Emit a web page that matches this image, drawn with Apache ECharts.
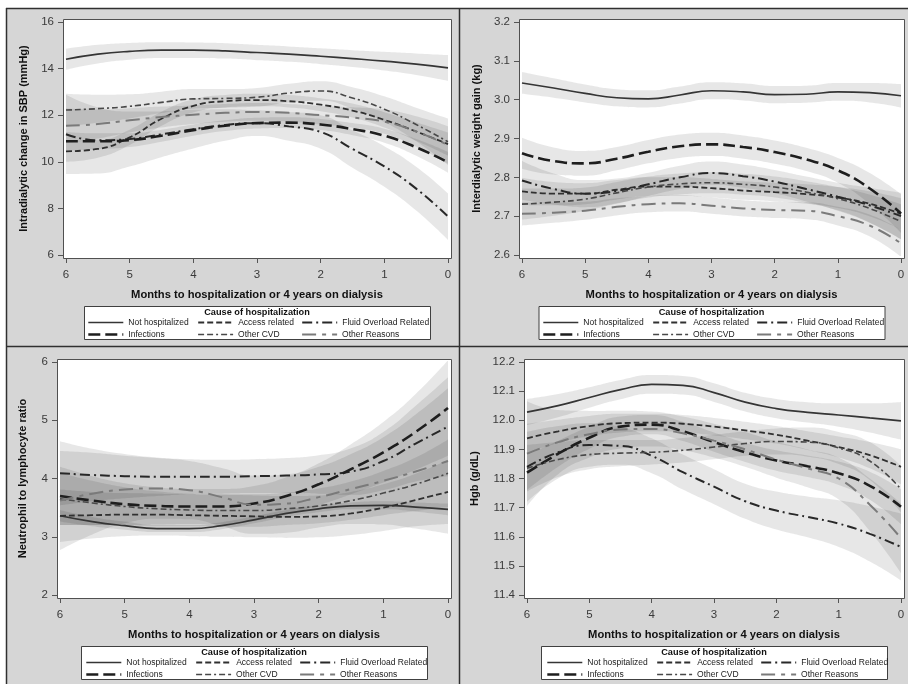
<!DOCTYPE html>
<html>
<head>
<meta charset="utf-8">
<title>Trajectories before hospitalization</title>
<script src="https://cdn.jsdelivr.net/npm/echarts@6/dist/echarts.min.js"></script>
<style>
  html, body { margin: 0; padding: 0; background: #ffffff; }
  #chart { width: 908px; height: 684px; }
</style>
</head>
<body>
<div id="chart"></div>
<script>
// Months before the event (x axis runs from 6 down to 0, half-month steps)
const months = [6, 5.5, 5, 4.5, 4, 3.5, 3, 2.5, 2, 1.5, 1, 0.5, 0];
const causes = ['Not hospitalized', 'Access related', 'Fluid Overload Related',
                'Infections', 'Other CVD', 'Other Reasons'];

// Intradialytic change in SBP (mmHg): fitted means and 95% CI half-widths
const sbpNotHosp   = [14.40, 14.62, 14.74, 14.79, 14.79, 14.76, 14.69, 14.62, 14.53, 14.43, 14.32, 14.19, 14.03];
const sbpAccess    = [10.45, 10.55, 11.05, 11.85, 12.40, 12.60, 12.65, 12.60, 12.45, 12.20, 11.80, 11.30, 10.76];
const sbpFluid     = [11.18, 10.92, 10.98, 11.18, 11.40, 11.58, 11.66, 11.52, 11.28, 10.55, 9.80, 8.85, 7.65];
const sbpInfection = [10.88, 10.88, 10.93, 11.12, 11.36, 11.55, 11.66, 11.68, 11.60, 11.40, 11.12, 10.62, 9.98];
const sbpOtherCVD  = [12.22, 12.28, 12.38, 12.55, 12.70, 12.72, 12.77, 12.95, 13.04, 12.74, 12.26, 11.60, 10.86];
const sbpOtherRsn  = [11.55, 11.62, 11.78, 11.92, 12.02, 12.10, 12.14, 12.10, 12.00, 11.90, 11.72, 11.30, 10.72];
const sbpNotHospCI   = [0.45, 0.40, 0.36, 0.34, 0.33, 0.33, 0.33, 0.33, 0.34, 0.36, 0.40, 0.46, 0.55];
const sbpAccessCI    = [0.45, 0.38, 0.33, 0.30, 0.28, 0.27, 0.27, 0.27, 0.28, 0.30, 0.33, 0.40, 0.50];
const sbpFluidCI     = [1.70, 1.42, 1.18, 0.98, 0.83, 0.68, 0.55, 0.62, 0.72, 0.80, 0.87, 0.94, 1.00];
const sbpInfectionCI = [0.40, 0.34, 0.30, 0.26, 0.24, 0.23, 0.23, 0.23, 0.24, 0.26, 0.30, 0.36, 0.45];
const sbpOtherCVDCI  = [0.70, 0.60, 0.52, 0.46, 0.42, 0.40, 0.40, 0.40, 0.42, 0.46, 0.55, 0.72, 1.00];
const sbpOtherRsnCI  = [0.75, 0.62, 0.52, 0.45, 0.40, 0.38, 0.38, 0.38, 0.40, 0.44, 0.52, 0.65, 0.80];

// Interdialytic weight gain (kg)
const idwgNotHosp   = [3.043, 3.030, 3.016, 3.005, 3.002, 3.012, 3.023, 3.020, 3.013, 3.014, 3.020, 3.018, 3.010];
const idwgAccess    = [2.764, 2.758, 2.758, 2.768, 2.776, 2.776, 2.772, 2.766, 2.762, 2.757, 2.748, 2.732, 2.706];
const idwgFluid     = [2.792, 2.770, 2.758, 2.765, 2.782, 2.800, 2.811, 2.803, 2.789, 2.770, 2.750, 2.728, 2.700];
const idwgInfection = [2.862, 2.842, 2.836, 2.848, 2.866, 2.880, 2.885, 2.878, 2.865, 2.846, 2.818, 2.772, 2.707];
const idwgOtherCVD  = [2.731, 2.736, 2.744, 2.760, 2.775, 2.783, 2.786, 2.782, 2.775, 2.762, 2.745, 2.720, 2.686];
const idwgOtherRsn  = [2.706, 2.709, 2.714, 2.724, 2.731, 2.733, 2.727, 2.720, 2.716, 2.714, 2.700, 2.676, 2.630];
const idwgNotHospCI   = [0.028, 0.025, 0.023, 0.022, 0.022, 0.022, 0.022, 0.022, 0.022, 0.022, 0.023, 0.025, 0.030];
const idwgAccessCI    = [0.035, 0.030, 0.027, 0.025, 0.024, 0.024, 0.024, 0.024, 0.024, 0.025, 0.027, 0.032, 0.040];
const idwgFluidCI     = [0.050, 0.040, 0.035, 0.032, 0.030, 0.030, 0.030, 0.030, 0.030, 0.032, 0.036, 0.045, 0.060];
const idwgInfectionCI = [0.040, 0.035, 0.032, 0.030, 0.030, 0.030, 0.030, 0.030, 0.030, 0.030, 0.032, 0.040, 0.050];
const idwgOtherCVDCI  = [0.040, 0.035, 0.030, 0.028, 0.027, 0.027, 0.027, 0.027, 0.027, 0.028, 0.030, 0.036, 0.045];
const idwgOtherRsnCI  = [0.030, 0.026, 0.023, 0.022, 0.021, 0.021, 0.021, 0.021, 0.021, 0.022, 0.024, 0.028, 0.035];

// Neutrophil to lymphocyte ratio
const nlrNotHosp   = [3.36, 3.26, 3.19, 3.14, 3.14, 3.19, 3.29, 3.40, 3.48, 3.53, 3.54, 3.51, 3.47];
const nlrAccess    = [3.36, 3.37, 3.38, 3.38, 3.37, 3.36, 3.35, 3.34, 3.35, 3.40, 3.50, 3.63, 3.77];
const nlrFluid     = [4.09, 4.06, 4.04, 4.03, 4.03, 4.03, 4.04, 4.05, 4.07, 4.12, 4.30, 4.60, 4.89];
const nlrInfection = [3.70, 3.62, 3.56, 3.53, 3.52, 3.52, 3.57, 3.70, 3.90, 4.16, 4.45, 4.80, 5.21];
const nlrOtherCVD  = [3.65, 3.58, 3.52, 3.48, 3.46, 3.45, 3.45, 3.48, 3.53, 3.62, 3.75, 3.90, 4.09];
const nlrOtherRsn  = [3.62, 3.74, 3.81, 3.83, 3.80, 3.68, 3.55, 3.57, 3.68, 3.82, 3.96, 4.12, 4.30];
const nlrNotHospCI   = [0.10, 0.08, 0.07, 0.06, 0.06, 0.06, 0.06, 0.06, 0.06, 0.06, 0.07, 0.08, 0.10];
const nlrAccessCI    = [0.45, 0.40, 0.37, 0.36, 0.36, 0.36, 0.36, 0.36, 0.36, 0.37, 0.40, 0.45, 0.55];
const nlrFluidCI     = [0.55, 0.45, 0.38, 0.33, 0.30, 0.29, 0.29, 0.30, 0.33, 0.40, 0.50, 0.65, 0.85];
const nlrInfectionCI = [0.50, 0.42, 0.36, 0.32, 0.30, 0.30, 0.30, 0.32, 0.36, 0.43, 0.52, 0.65, 0.82];
const nlrOtherCVDCI  = [0.45, 0.38, 0.33, 0.30, 0.28, 0.28, 0.28, 0.28, 0.30, 0.33, 0.38, 0.46, 0.58];
const nlrOtherRsnCI  = [0.85, 0.70, 0.58, 0.52, 0.50, 0.50, 0.50, 0.50, 0.52, 0.60, 0.75, 0.98, 1.25];

// Hemoglobin (g/dL)
const hgbNotHosp   = [12.028, 12.050, 12.078, 12.105, 12.123, 12.120, 12.095, 12.062, 12.040, 12.027, 12.018, 12.008, 11.998];
const hgbAccess    = [11.938, 11.962, 11.980, 11.990, 11.992, 11.988, 11.978, 11.965, 11.950, 11.930, 11.908, 11.880, 11.840];
const hgbFluid     = [11.840, 11.890, 11.915, 11.912, 11.878, 11.822, 11.772, 11.722, 11.690, 11.668, 11.645, 11.610, 11.565];
const hgbInfection = [11.820, 11.885, 11.940, 11.978, 11.985, 11.962, 11.925, 11.890, 11.862, 11.842, 11.818, 11.775, 11.703];
const hgbOtherCVD  = [11.835, 11.865, 11.882, 11.887, 11.890, 11.897, 11.908, 11.920, 11.927, 11.925, 11.905, 11.860, 11.763];
const hgbOtherRsn  = [11.885, 11.925, 11.952, 11.968, 11.970, 11.955, 11.930, 11.900, 11.865, 11.835, 11.800, 11.710, 11.595];
const hgbNotHospCI   = [0.045, 0.040, 0.035, 0.033, 0.032, 0.032, 0.032, 0.032, 0.033, 0.035, 0.040, 0.050, 0.065];
const hgbAccessCI    = [0.050, 0.040, 0.035, 0.032, 0.030, 0.030, 0.030, 0.030, 0.030, 0.032, 0.036, 0.045, 0.060];
const hgbFluidCI     = [0.120, 0.090, 0.075, 0.065, 0.060, 0.060, 0.060, 0.060, 0.065, 0.070, 0.080, 0.095, 0.115];
const hgbInfectionCI = [0.060, 0.045, 0.038, 0.035, 0.033, 0.033, 0.033, 0.033, 0.035, 0.037, 0.040, 0.048, 0.060];
const hgbOtherCVDCI  = [0.080, 0.060, 0.050, 0.045, 0.042, 0.042, 0.042, 0.042, 0.045, 0.050, 0.055, 0.065, 0.080];
const hgbOtherRsnCI  = [0.180, 0.110, 0.080, 0.065, 0.060, 0.058, 0.058, 0.060, 0.062, 0.065, 0.072, 0.090, 0.120];

const panels = [
  { yName: 'Intradialytic change in SBP (mmHg)', yMin: 6, yMax: 16, yStep: 2, digits: 0,
    means: [sbpNotHosp, sbpAccess, sbpFluid, sbpInfection, sbpOtherCVD, sbpOtherRsn],
    cis:   [sbpNotHospCI, sbpAccessCI, sbpFluidCI, sbpInfectionCI, sbpOtherCVDCI, sbpOtherRsnCI] },
  { yName: 'Interdialytic weight gain (kg)', yMin: 2.6, yMax: 3.2, yStep: 0.1, digits: 1,
    means: [idwgNotHosp, idwgAccess, idwgFluid, idwgInfection, idwgOtherCVD, idwgOtherRsn],
    cis:   [idwgNotHospCI, idwgAccessCI, idwgFluidCI, idwgInfectionCI, idwgOtherCVDCI, idwgOtherRsnCI] },
  { yName: 'Neutrophil to lymphocyte ratio', yMin: 2, yMax: 6, yStep: 1, digits: 0,
    means: [nlrNotHosp, nlrAccess, nlrFluid, nlrInfection, nlrOtherCVD, nlrOtherRsn],
    cis:   [nlrNotHospCI, nlrAccessCI, nlrFluidCI, nlrInfectionCI, nlrOtherCVDCI, nlrOtherRsnCI] },
  { yName: 'Hgb (g/dL)', yMin: 11.4, yMax: 12.2, yStep: 0.1, digits: 1,
    means: [hgbNotHosp, hgbAccess, hgbFluid, hgbInfection, hgbOtherCVD, hgbOtherRsn],
    cis:   [hgbNotHospCI, hgbAccessCI, hgbFluidCI, hgbInfectionCI, hgbOtherCVDCI, hgbOtherRsnCI] }
];

// Page layout (pixels): plotting rectangle, y-title gap, legend position
const layout = [
  { left: 66,  top: 22,  width: 382, height: 233, nameGap: 34, legendLeft: 87 },
  { left: 522, top: 22,  width: 379, height: 233, nameGap: 37, legendLeft: 542 },
  { left: 60,  top: 362, width: 388, height: 233, nameGap: 29, legendLeft: 85 },
  { left: 527, top: 362, width: 374, height: 233, nameGap: 44, legendLeft: 546 }
];
const PAD = 3;            // frame sits a few pixels outside the data range
const FONT = 'Liberation Sans, Arial, sans-serif';

const styleByCause = {
  'Not hospitalized':       { color: '#353535', width: 1.7, type: 'solid' },
  'Access related':         { color: '#303030', width: 1.8, type: [6, 3] },
  'Fluid Overload Related': { color: '#282828', width: 2.0, type: [10, 4, 2, 4] },
  'Infections':             { color: '#1e1e1e', width: 2.6, type: [12, 5] },
  'Other CVD':              { color: '#484848', width: 1.6, type: [6, 3, 6, 3, 2, 3] },
  'Other Reasons':          { color: '#7a7a7a', width: 2.0, type: [14, 6, 4, 6] }
};
const legendColumn = {
  'Not hospitalized': 'c1', 'Infections': 'c1',
  'Access related': 'c2', 'Other CVD': 'c2',
  'Fluid Overload Related': 'c3', 'Other Reasons': 'c3'
};
const legendOrder = ['Not hospitalized', 'Access related', 'Fluid Overload Related',
                     'Infections', 'Other CVD', 'Other Reasons'];

const grids = [], xAxes = [], yAxes = [], series = [], legends = [], graphics = [];

// white margin and panel dividers
graphics.push(
  { type: 'rect', shape: { x: 0, y: 0, width: 908, height: 8 }, style: { fill: '#ffffff' }, z: -20 },
  { type: 'rect', shape: { x: 0, y: 0, width: 6, height: 684 }, style: { fill: '#ffffff' }, z: -20 },
  { type: 'line', shape: { x1: 6, y1: 8.5, x2: 908, y2: 8.5 }, style: { stroke: '#303030', lineWidth: 1.5 }, z: -10 },
  { type: 'line', shape: { x1: 6.5, y1: 8, x2: 6.5, y2: 684 }, style: { stroke: '#303030', lineWidth: 1.5 }, z: -10 },
  { type: 'line', shape: { x1: 459.5, y1: 8, x2: 459.5, y2: 684 }, style: { stroke: '#303030', lineWidth: 1.5 }, z: -10 },
  { type: 'line', shape: { x1: 6, y1: 346.5, x2: 908, y2: 346.5 }, style: { stroke: '#303030', lineWidth: 1.5 }, z: -10 }
);

panels.forEach((p, pi) => {
  const L = layout[pi];
  grids.push({ left: L.left, top: L.top, width: L.width, height: L.height, containLabel: false });

  xAxes.push({
    type: 'category', gridIndex: pi, data: months.map(String), boundaryGap: false, offset: PAD,
    name: 'Months to hospitalization or 4 years on dialysis',
    nameLocation: 'middle', nameGap: 31,
    nameTextStyle: { fontFamily: FONT, fontSize: 11.2, fontWeight: 'bold', color: '#111' },
    axisLine: { show: false, onZero: false },
    axisTick: { show: true, length: 5, interval: 1, lineStyle: { color: '#555', width: 1 } },
    axisLabel: { fontFamily: FONT, fontSize: 11.5, color: '#3a3a3a', margin: 11, interval: 1 },
    splitLine: { show: false }
  });

  yAxes.push({
    type: 'value', gridIndex: pi, min: p.yMin, max: p.yMax, interval: p.yStep, offset: PAD,
    name: p.yName, nameLocation: 'middle', nameGap: L.nameGap,
    nameTextStyle: { fontFamily: FONT, fontSize: 11, fontWeight: 'bold', color: '#111' },
    axisLine: { show: false, onZero: false },
    axisTick: { show: true, length: 5, lineStyle: { color: '#555', width: 1 } },
    axisLabel: { fontFamily: FONT, fontSize: 11.5, color: '#3a3a3a', margin: 9,
                 formatter: v => v.toFixed(p.digits) },
    splitLine: { show: false }
  });

  // plot frame
  graphics.push({
    type: 'rect', z: -5,
    shape: { x: L.left - PAD + 0.5, y: L.top - PAD + 0.5, width: L.width + 2 * PAD, height: L.height + 2 * PAD },
    style: { fill: '#ffffff', stroke: '#505050', lineWidth: 1 }
  });

  // legend box and its heading
  const boxTop = L.top + 284;
  const boxCx = L.left + L.width / 2;
  graphics.push({
    type: 'rect', z: -5,
    shape: { x: boxCx - 173 + 0.5, y: boxTop + 0.5, width: 346, height: 33 },
    style: { fill: '#ffffff', stroke: '#404040', lineWidth: 1 }
  });
  graphics.push({
    type: 'text', z: 5, x: boxCx, y: boxTop + 6.5,
    style: { text: 'Cause of hospitalization', textAlign: 'center', textVerticalAlign: 'middle',
             font: 'bold 9.2px ' + FONT, fill: '#111' }
  });

  legends.push({
    data: legendOrder, left: L.legendLeft, top: boxTop + 12, width: 350,
    orient: 'horizontal', padding: 0, itemGap: 3, itemWidth: 35, itemHeight: 8,
    selectedMode: false,
    itemStyle: { color: 'transparent', borderWidth: 0, opacity: 0 },
    lineStyle: { width: 'inherit' },
    formatter: name => '{' + legendColumn[name] + '|' + name + '}',
    textStyle: {
      fontFamily: FONT, fontSize: 8.5, color: '#1a1a1a', lineHeight: 8,
      rich: {
        c1: { width: 66, fontFamily: FONT, fontSize: 8.5, color: '#1a1a1a', lineHeight: 8 },
        c2: { width: 60, fontFamily: FONT, fontSize: 8.5, color: '#1a1a1a', lineHeight: 8 },
        c3: { width: 88, fontFamily: FONT, fontSize: 8.5, color: '#1a1a1a', lineHeight: 8 }
      }
    }
  });

  // confidence bands: translucent stacked areas (lower bound + band width)
  causes.forEach((c, k) => {
    const mean = p.means[k], ci = p.cis[k];
    const stackId = 'band-' + pi + '-' + k;
    series.push({
      type: 'line', name: stackId + '-lo', xAxisIndex: pi, yAxisIndex: pi, stack: stackId,
      data: mean.map((v, i) => v - ci[i]),
      smooth: true, symbol: 'none', silent: true, z: 1,
      lineStyle: { opacity: 0 }
    });
    series.push({
      type: 'line', name: stackId + '-hi', xAxisIndex: pi, yAxisIndex: pi, stack: stackId,
      data: ci.map(v => 2 * v),
      smooth: true, symbol: 'none', silent: true, z: 1,
      lineStyle: { opacity: 0 },
      areaStyle: { color: 'rgba(0,0,0,0.095)', opacity: 1 }
    });
  });

  // fitted trajectories
  causes.forEach((c, k) => {
    const s = styleByCause[c];
    series.push({
      type: 'line', name: c, xAxisIndex: pi, yAxisIndex: pi,
      data: p.means[k],
      smooth: true, symbol: 'none', showSymbol: false, silent: true, z: 3,
      itemStyle: { color: s.color },
      lineStyle: { color: s.color, width: s.width, type: s.type, cap: 'butt' }
    });
  });
});

const chart = echarts.init(document.getElementById('chart'), null, { renderer: 'canvas' });
chart.setOption({
  animation: false,
  backgroundColor: '#d6d6d6',
  grid: grids,
  xAxis: xAxes,
  yAxis: yAxes,
  legend: legends,
  graphic: graphics,
  series: series
});
</script>
</body>
</html>
